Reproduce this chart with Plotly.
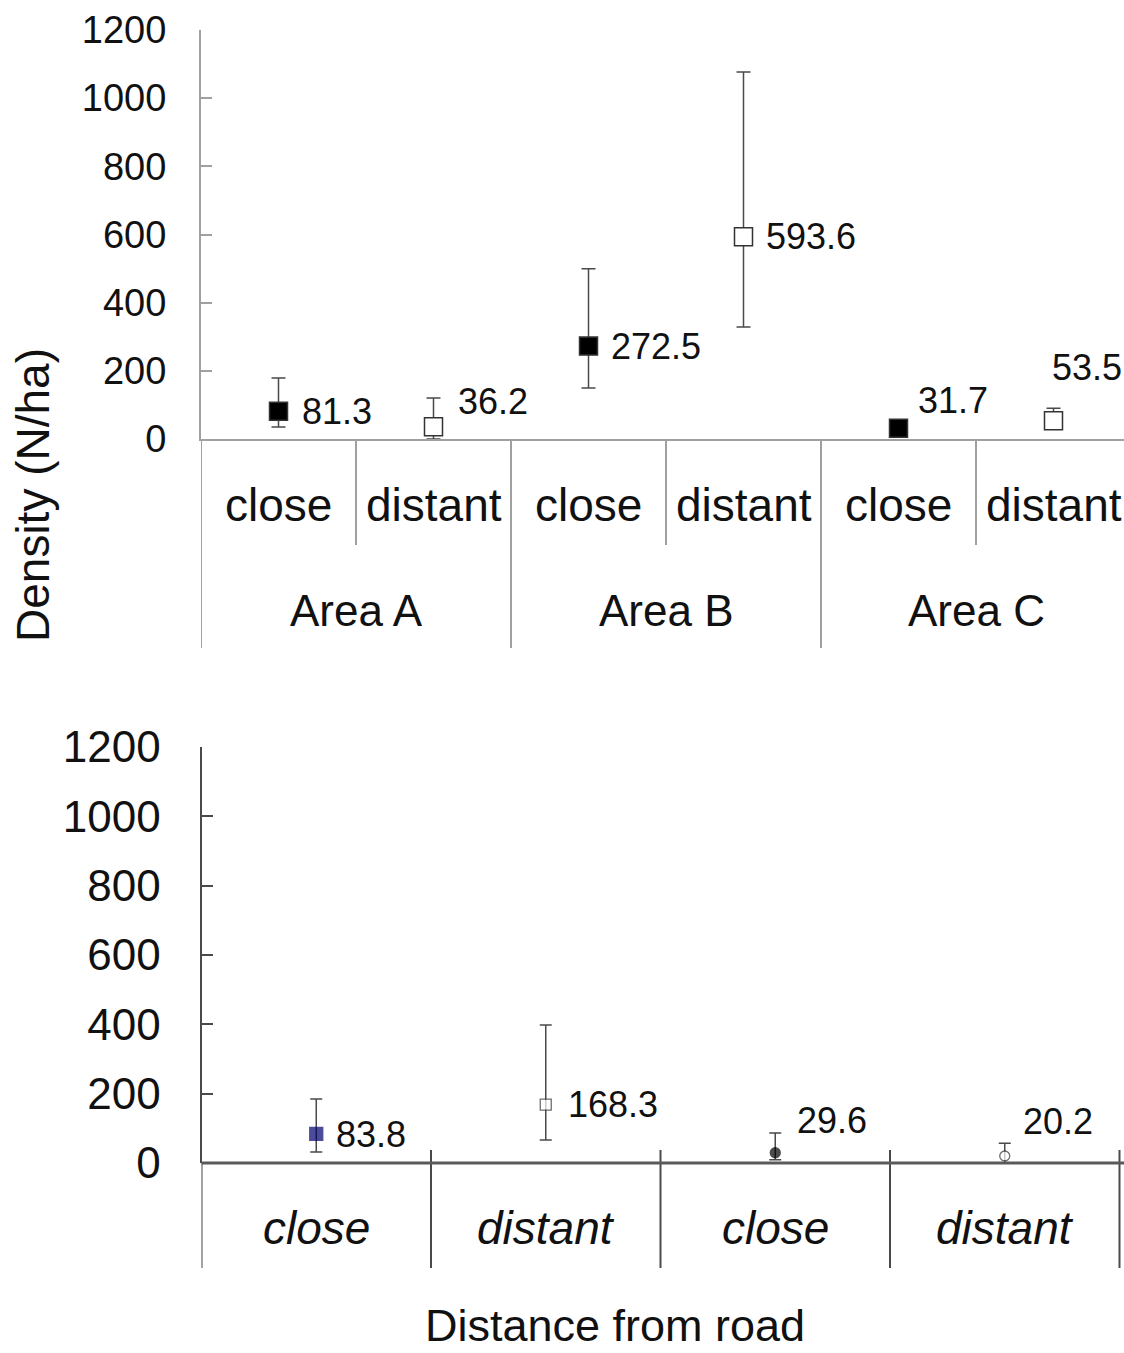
import plotly.graph_objects as go

# ---------------- data ----------------
top_categories = ["close", "distant", "close", "distant", "close", "distant"]
top_groups = ["Area A", "Area B", "Area C"]
top_values = [81.3, 36.2, 272.5, 593.6, 31.7, 53.5]
top_err_plus = [98, 84, 227, 483, 20, 37]
top_err_minus = [46, 36, 123, 265, 20, 24]

bottom_categories = ["close", "distant", "close", "distant"]
bottom_values = [83.8, 168.3, 29.6, 20.2]
bottom_err_plus = [101, 230, 57, 37]
bottom_err_minus = [52, 102, 20, 20]

y_ticks = [0, 200, 400, 600, 800, 1000, 1200]

# ---------------- styling ----------------
W, H = 1124, 1353
FONT = "Liberation Sans, Arial, sans-serif"
TXT = "#111111"
GRAY = "#a0a0a0"
DARK = "#4a4a4a"


def px_y(p):
    return 1 - p / H


top_marker_colors = ["#000000", "#ffffff", "#000000", "#ffffff", "#000000", "#ffffff"]
top_label_shift = [(21, 0), (22, 25), (20, 0), (20, 0), (17, 28), (-4, 53)]

bottom_marker_symbols = ["square", "square", "circle", "circle"]
bottom_marker_colors = ["#000070", "#ffffff", "#000000", "#ffffff"]
bottom_marker_lines = ["#000070", "#333333", "#000000", "#333333"]
bottom_marker_sizes = [13, 11, 10, 10]
bottom_label_shift = [(18, -1), (20, 0), (20, 32), (16, 35)]

fig = go.Figure()

# top chart trace
top_x = list(range(len(top_values)))
fig.add_trace(go.Scatter(
    x=top_x, y=top_values, mode="markers", xaxis="x", yaxis="y",
    marker=dict(symbol="square", size=18, color=top_marker_colors,
                line=dict(color="#333333", width=1.5)),
    error_y=dict(type="data", symmetric=False, array=top_err_plus,
                 arrayminus=top_err_minus, color=DARK, thickness=1.5, width=7),
    cliponaxis=False, showlegend=False,
))

# bottom chart trace
bottom_x = list(range(len(bottom_values)))
fig.add_trace(go.Scatter(
    x=bottom_x, y=bottom_values, mode="markers", xaxis="x2", yaxis="y2",
    marker=dict(symbol=bottom_marker_symbols, size=bottom_marker_sizes,
                color=bottom_marker_colors,
                line=dict(color=bottom_marker_lines, width=1.3)),
    error_y=dict(type="data", symmetric=False, array=bottom_err_plus,
                 arrayminus=bottom_err_minus, color=DARK, thickness=1.5, width=6),
    cliponaxis=False, showlegend=False,
))

annotations = []
shapes = []

# data labels
for i, v in enumerate(top_values):
    dx, dy = top_label_shift[i]
    annotations.append(dict(x=i, y=v, xref="x", yref="y", text=f"{v:.1f}",
                            showarrow=False, xanchor="left", yanchor="middle",
                            xshift=dx, yshift=dy,
                            font=dict(family=FONT, size=36, color=TXT)))
for i, v in enumerate(bottom_values):
    dx, dy = bottom_label_shift[i]
    annotations.append(dict(x=i, y=v, xref="x2", yref="y2", text=f"{v:.1f}",
                            showarrow=False, xanchor="left", yanchor="middle",
                            xshift=dx, yshift=dy,
                            font=dict(family=FONT, size=36, color=TXT)))

# top category labels
for i, c in enumerate(top_categories):
    annotations.append(dict(x=i, y=px_y(505), xref="x", yref="paper", text=c,
                            showarrow=False, xanchor="center", yanchor="middle",
                            font=dict(family=FONT, size=46, color=TXT)))
for g, name in enumerate(top_groups):
    annotations.append(dict(x=2 * g + 0.5, y=px_y(610), xref="x", yref="paper",
                            text=name, showarrow=False, xanchor="center",
                            yanchor="middle",
                            font=dict(family=FONT, size=44, color=TXT)))

# top dividers
for k in range(len(top_categories)):
    xpos = k - 0.5
    bottom_px = 648 if k % 2 == 0 else 545
    shapes.append(dict(type="line", xref="x", yref="paper", x0=xpos, x1=xpos,
                       y0=px_y(439), y1=px_y(bottom_px),
                       line=dict(color=GRAY, width=2)))

# bottom category labels
for i, c in enumerate(bottom_categories):
    annotations.append(dict(x=i, y=px_y(1228), xref="x2", yref="paper",
                            text=f"<i>{c}</i>", showarrow=False,
                            xanchor="center", yanchor="middle",
                            font=dict(family=FONT, size=46, color=TXT)))

# bottom dividers
for k in range(len(bottom_categories) + 1):
    xpos = k - 0.5
    top_px = 1163 if k == 0 else 1150
    shapes.append(dict(type="line", xref="x2", yref="paper", x0=xpos, x1=xpos,
                       y0=px_y(top_px), y1=px_y(1268),
                       line=dict(color=DARK, width=2)))
# bottom baseline
shapes.append(dict(type="line", xref="paper", yref="paper", x0=201.5 / W, x1=1,
                   y0=px_y(1163), y1=px_y(1163), line=dict(color="#5a5a5a", width=3)))

# axis titles
annotations.append(dict(x=33 / W, y=px_y(495), xref="paper", yref="paper",
                        text="Density (N/ha)", textangle=-90, showarrow=False,
                        xanchor="center", yanchor="middle",
                        font=dict(family=FONT, size=46, color=TXT)))
annotations.append(dict(x=615 / W, y=px_y(1325), xref="paper", yref="paper",
                        text="Distance from road", showarrow=False,
                        xanchor="center", yanchor="middle", borderpad=0,
                        font=dict(family=FONT, size=45, color=TXT)))

top_w = 155.0
bot_w = 229.5
fig.update_layout(
    width=W, height=H, margin=dict(l=0, r=0, t=0, b=0, pad=0, autoexpand=False),
    paper_bgcolor="white", plot_bgcolor="white",
    xaxis=dict(domain=[201 / W, 1], range=[-0.5, (W - 201) / top_w - 0.5],
               showgrid=False, zeroline=False, showticklabels=False, ticks="",
               showline=True, linecolor=GRAY, linewidth=2, anchor="y",
               automargin=False),
    yaxis=dict(domain=[px_y(439), px_y(30)], range=[0, 1200], tickvals=y_ticks,
               showgrid=False, zeroline=False, showline=True, linecolor=GRAY,
               linewidth=2, ticks="inside", ticklen=11, tickcolor=GRAY, tickwidth=2,
               ticklabelstandoff=25, anchor="x", automargin=False,
               tickfont=dict(family=FONT, size=38, color=TXT)),
    xaxis2=dict(domain=[201.5 / W, 1], range=[-0.5, (W - 201.5) / bot_w - 0.5],
                showgrid=False, zeroline=False, showticklabels=False, ticks="",
                showline=False, anchor="y2", automargin=False),
    yaxis2=dict(domain=[px_y(1163), px_y(747)], range=[0, 1200], tickvals=y_ticks,
                showgrid=False, zeroline=False, showline=True, linecolor=DARK,
                linewidth=2, ticks="inside", ticklen=11, tickcolor=DARK, tickwidth=2,
                ticklabelstandoff=30, anchor="x2", automargin=False,
                tickfont=dict(family=FONT, size=44, color=TXT)),
    annotations=annotations, shapes=shapes,
)

fig.write_html(
    "out.html",
    config={"displayModeBar": False},
    post_script="document.body.style.margin='0';document.body.style.overflow='hidden';",
)
